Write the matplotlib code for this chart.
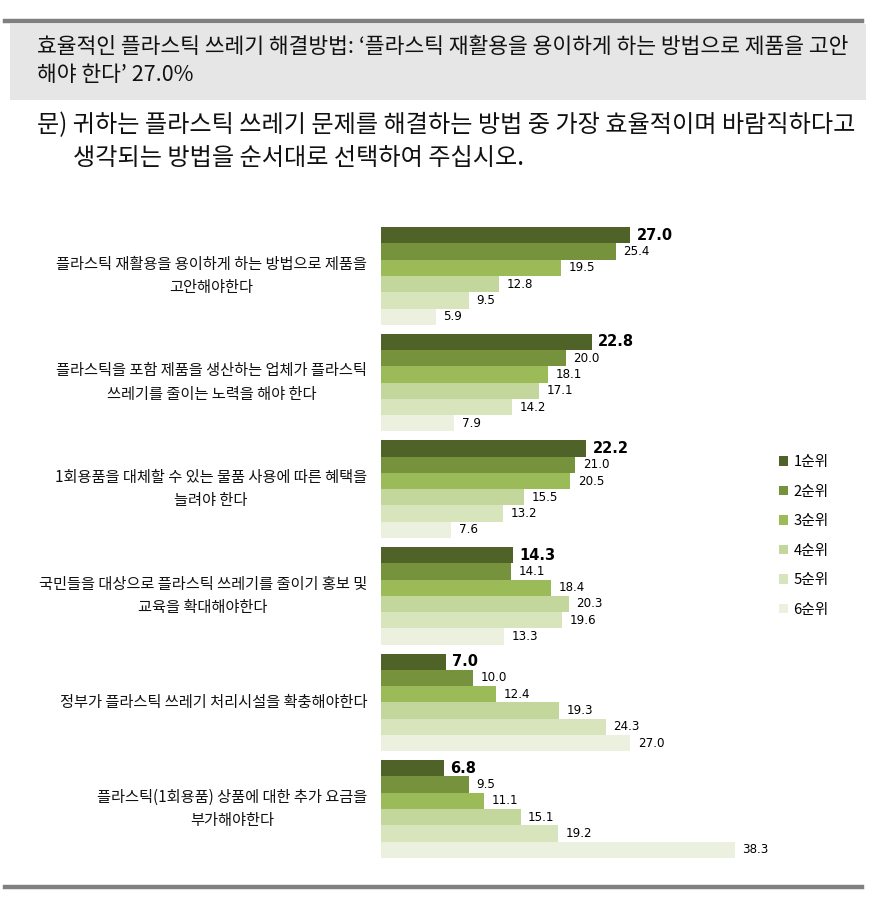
import matplotlib
matplotlib.use("Agg")
import matplotlib.pyplot as plt
from matplotlib.patches import Rectangle
from matplotlib.lines import Line2D

plt.rcParams['font.family'] = ['Noto Sans CJK KR', 'DejaVu Sans']

categories = [
    "플라스틱 재활용을 용이하게 하는 방법으로 제품을\n고안해야한다",
    "플라스틱을 포함 제품을 생산하는 업체가 플라스틱\n쓰레기를 줄이는 노력을 해야 한다",
    "1회용품을 대체할 수 있는 물품 사용에 따른 혜택을\n늘려야 한다",
    "국민들을 대상으로 플라스틱 쓰레기를 줄이기 홍보 및\n교육을 확대해야한다",
    "정부가 플라스틱 쓰레기 처리시설을 확충해야한다",
    "플라스틱(1회용품) 상품에 대한 추가 요금을\n부가해야한다",
]
series_names = ["1순위", "2순위", "3순위", "4순위", "5순위", "6순위"]
rank1 = [27.0, 22.8, 22.2, 14.3, 7.0, 6.8]
rank2 = [25.4, 20.0, 21.0, 14.1, 10.0, 9.5]
rank3 = [19.5, 18.1, 20.5, 18.4, 12.4, 11.1]
rank4 = [12.8, 17.1, 15.5, 20.3, 19.3, 15.1]
rank5 = [9.5, 14.2, 13.2, 19.6, 24.3, 19.2]
rank6 = [5.9, 7.9, 7.6, 13.3, 27.0, 38.3]
series = [rank1, rank2, rank3, rank4, rank5, rank6]
colors = ["#4f6228", "#76923c", "#9bbb59", "#c3d69b", "#d7e4bc", "#ebf1de"]

title_text = "효율적인 플라스틱 쓰레기 해결방법: ‘플라스틱 재활용을 용이하게 하는 방법으로 제품을 고안\n해야 한다’ 27.0%"
question_line1 = "문) 귀하는 플라스틱 쓰레기 문제를 해결하는 방법 중 가장 효율적이며 바람직하다고"
question_line2 = "생각되는 방법을 순서대로 선택하여 주십시오."

W, H = 874, 900
fig = plt.figure(figsize=(W / 100, H / 100), dpi=100)

def fx(px):
    return px / W

def fy(py):
    return 1 - py / H

# header lines and box
fig.add_artist(Line2D([fx(5), fx(862)], [fy(21), fy(21)], color="#808080", lw=3.2))
fig.add_artist(Rectangle((fx(10), fy(100)), fx(866) - fx(10), fy(24) - fy(100),
                         facecolor="#e6e6e6", edgecolor="none"))
fig.add_artist(Line2D([fx(5), fx(862)], [fy(887), fy(887)], color="#808080", lw=3.2))

fig.text(fx(37), fy(61), title_text, fontsize=15.5, va="center", ha="left",
         color="#111111", linespacing=1.3)
fig.text(fx(37), fy(125), question_line1, fontsize=17.4, va="center", ha="left", color="#111111")
fig.text(fx(73), fy(158), question_line2, fontsize=17.4, va="center", ha="left", color="#111111")

# axes
top_px, bot_px, left_px = 227, 858, 381
step = 6.54
ymax = 5 * step + 6
ax = fig.add_axes([fx(left_px), fy(bot_px), 50 * 9.24 / W, (bot_px - top_px) / H])
ax.set_xlim(0, 50)
ax.set_ylim(ymax, 0)
ax.axis("off")

handles = []
for j, (vals, c, name) in enumerate(zip(series, colors, series_names)):
    ys = [i * step + j + 0.5 for i in range(len(categories))]
    bars = ax.barh(ys, vals, height=1.0, color=c, label=name)
    handles.append(bars)
    for y, v in zip(ys, vals):
        if j == 0:
            ax.annotate(f"{v:.1f}", (v, y), xytext=(4.5, 0), textcoords="offset points",
                        va="center", ha="left", fontsize=10.5, fontweight="bold",
                        family="DejaVu Sans", color="#000000")
        else:
            ax.annotate(f"{v:.1f}", (v, y), xytext=(5.5, 0), textcoords="offset points",
                        va="center", ha="left", fontsize=8.6,
                        family="DejaVu Sans", color="#000000")

for i, cat in enumerate(categories):
    yc = i * step + 3
    ax.text(-14 / 9.24, yc, cat, ha="right", va="center", multialignment="center",
            fontsize=11, linespacing=1.5, color="#111111")

leg = fig.legend(handles=handles, labels=series_names, loc="upper left",
                 bbox_to_anchor=(fx(772), fy(448)), frameon=False, fontsize=10.6,
                 handlelength=0.6, handleheight=0.6, handletextpad=0.35,
                 labelspacing=1.05, borderpad=0)

fig.savefig("out.png", dpi=100, facecolor="white")
